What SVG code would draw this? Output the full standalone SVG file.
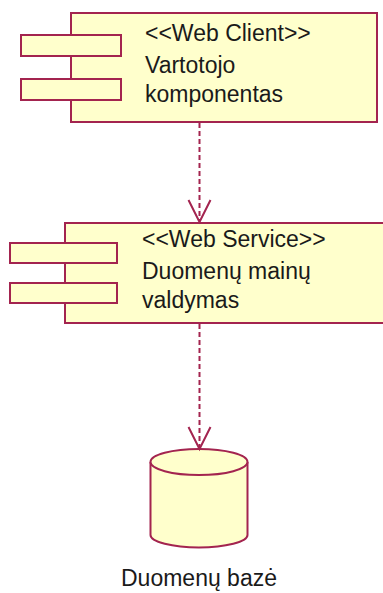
<svg xmlns="http://www.w3.org/2000/svg" width="383" height="593" viewBox="0 0 383 593">
<style>
.box{fill:#ffffcc;stroke:#a3244f;stroke-width:2}
.t{font-family:"Liberation Sans",Arial,sans-serif;font-size:23px;fill:#1a1a1a}
.dep{fill:none;stroke:#a3244f;stroke-width:2;stroke-dasharray:5 3}
.head{fill:none;stroke:#a3244f;stroke-width:2}
</style>
<rect width="383" height="593" fill="#ffffff"/>
<g id="web-client">
<rect class="box" x="71" y="13" width="306" height="109"/>
<rect class="box" x="21" y="35" width="100" height="21"/>
<rect class="box" x="21" y="79" width="100" height="21"/>
<text class="t" x="145" y="41">&lt;&lt;Web Client&gt;&gt;</text>
<text class="t" x="145" y="73">Vartotojo</text>
<text class="t" x="145" y="102">komponentas</text>
</g>
<g id="web-service">
<rect class="box" x="65" y="223" width="330" height="100"/>
<rect class="box" x="10" y="243" width="107" height="20"/>
<rect class="box" x="10" y="283" width="107" height="20"/>
<text class="t" x="142" y="247">&lt;&lt;Web Service&gt;&gt;</text>
<text class="t" x="142" y="279">Duomenų mainų</text>
<text class="t" x="142" y="308">valdymas</text>
</g>
<g id="database">
<path class="box" d="M150.5,462 L150.5,535 A48.5,12.5 0 0 0 247.5,535 L247.5,462"/>
<ellipse class="box" cx="199" cy="462" rx="48.5" ry="13"/>
<text class="t" x="199" y="586" text-anchor="middle">Duomenų bazė</text>
</g>
<g id="connectors">
<line class="dep" x1="199.5" y1="123" x2="199.5" y2="221"/>
<polyline class="head" points="188.5,200 199.5,222 210.5,200"/>
<line class="dep" x1="199.5" y1="324" x2="199.5" y2="448"/>
<polyline class="head" points="188.5,427 199.5,449 210.5,427"/>
</g>
</svg>
